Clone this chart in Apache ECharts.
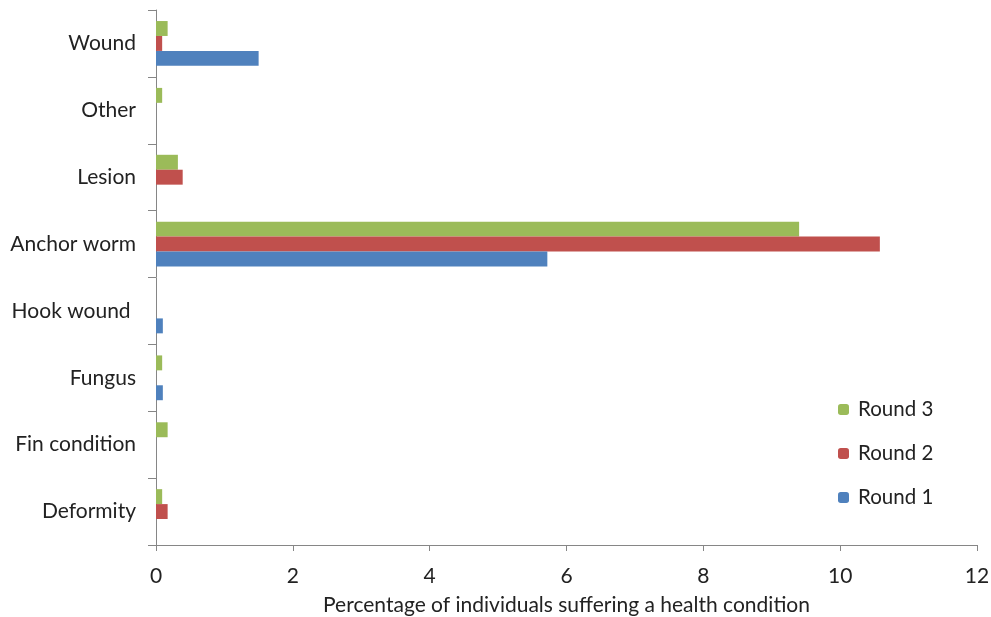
<!DOCTYPE html>
<html><head><meta charset="utf-8">
<script src="https://cdn.jsdelivr.net/npm/echarts@6/dist/echarts.min.js"></script>
<style>html,body{margin:0;padding:0;background:#fff}#c{width:991px;height:617px}</style>
</head><body><div id="c"></div>
<script>
var categories = ['Deformity', 'Fin condition', 'Fungus', 'Hook wound ', 'Anchor worm', 'Lesion', 'Other', 'Wound'];
var round1 = [0, 0, 0.1, 0.1, 5.72, 0, 0, 1.5];
var round2 = [0.17, 0, 0, 0, 10.58, 0.39, 0, 0.09];
var round3 = [0.09, 0.17, 0.09, 0, 9.4, 0.32, 0.09, 0.17];
var xTicks = [0, 2, 4, 6, 8, 10, 12];
var font = 'Lato';
var chart = echarts.init(document.getElementById('c'));
chart.setOption({
  animation: false,
  textStyle: {fontFamily: font},
  grid: {left: 156, right: 14, top: 10, bottom: 72, containLabel: false, outerBoundsMode: 'none'},
  legend: {
    orient: 'vertical', left: 833, top: 394, itemGap: 23,
    itemWidth: 11, itemHeight: 11,
    data: ['Round 3', 'Round 2', 'Round 1'],
    textStyle: {fontFamily: font, fontSize: 20.5, color: '#222', padding: [0, 0, 0, 4]}
  },
  xAxis: {
    type: 'value', min: xTicks[0], max: xTicks[xTicks.length - 1], interval: 2,
    name: 'Percentage of individuals suffering a health condition',
    nameLocation: 'middle', nameGap: 50,
    nameTextStyle: {fontFamily: font, fontSize: 21, color: '#222'},
    axisLine: {show: true, lineStyle: {color: '#868686'}},
    axisTick: {show: true, length: 6, lineStyle: {color: '#868686'}},
    axisLabel: {fontFamily: font, fontSize: 21, color: '#222', margin: 21},
    splitLine: {show: false}
  },
  yAxis: {
    type: 'category', data: categories,
    axisLine: {show: true, lineStyle: {color: '#868686'}},
    axisTick: {show: true, length: 8, lineStyle: {color: '#868686'}},
    axisLabel: {fontFamily: font, fontSize: 21, color: '#222', margin: 20}
  },
  series: [
    {name: 'Round 3', type: 'bar', data: round3, itemStyle: {color: '#9BBB59'}, barGap: '0%', barCategoryGap: '33%'},
    {name: 'Round 2', type: 'bar', data: round2, itemStyle: {color: '#C0504D'}, barGap: '0%', barCategoryGap: '33%'},
    {name: 'Round 1', type: 'bar', data: round1, itemStyle: {color: '#4F81BD'}, barGap: '0%', barCategoryGap: '33%'}
  ]
});
</script></body></html>
